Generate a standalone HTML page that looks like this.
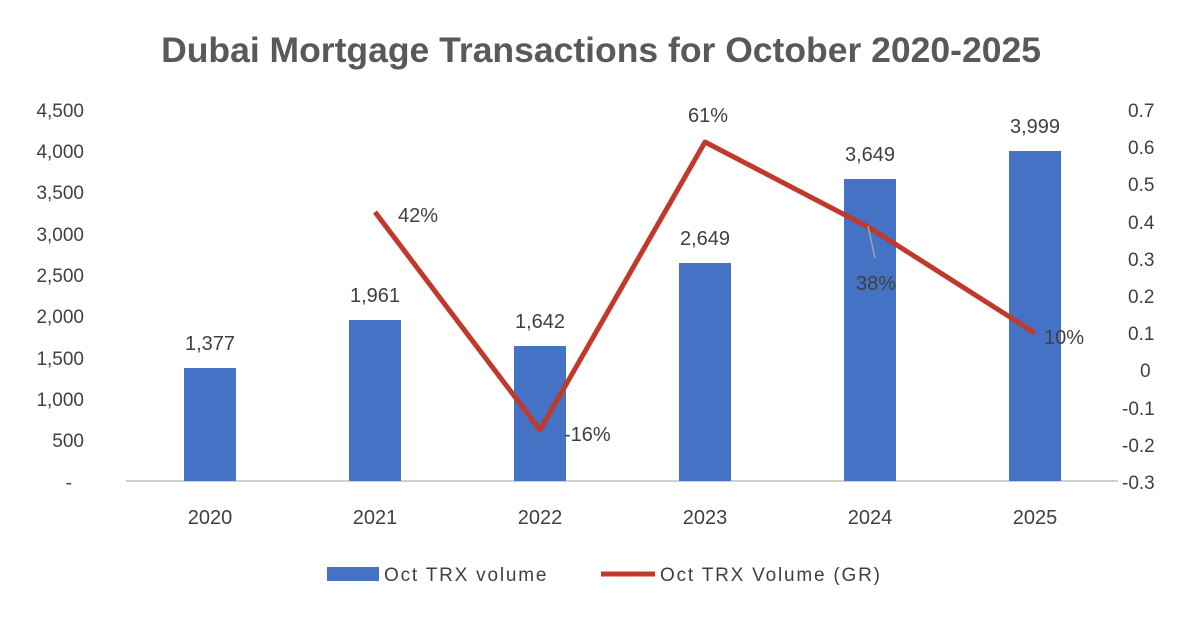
<!DOCTYPE html>
<html><head><meta charset="utf-8"><style>
html,body{margin:0;padding:0;background:#fff;}
svg text{font-family:"Liberation Sans",Arial,sans-serif;fill:#404040;}
</style></head><body>
<svg width="1203" height="616" viewBox="0 0 1203 616" xmlns="http://www.w3.org/2000/svg">
<rect width="1203" height="616" fill="#fff"/>
<text x="601" y="62" font-size="35.5" font-weight="bold" text-anchor="middle" style="fill:#595959">Dubai Mortgage Transactions for October 2020-2025</text>
<g font-size="19" text-anchor="end">
<text x="84" y="117">4,500</text>
<text x="84" y="158">4,000</text>
<text x="84" y="199">3,500</text>
<text x="84" y="241">3,000</text>
<text x="84" y="282">2,500</text>
<text x="84" y="323">2,000</text>
<text x="84" y="365">1,500</text>
<text x="84" y="406">1,000</text>
<text x="84" y="447">500</text>
<text x="72" y="489">-</text>
</g>
<g font-size="19" text-anchor="start">
<text x="1128" y="117">0.7</text>
<text x="1128" y="154">0.6</text>
<text x="1128" y="191">0.5</text>
<text x="1128" y="229">0.4</text>
<text x="1128" y="266">0.3</text>
<text x="1128" y="303">0.2</text>
<text x="1128" y="340">0.1</text>
<text x="1140" y="377">0</text>
<text x="1122" y="415">-0.1</text>
<text x="1122" y="452">-0.2</text>
<text x="1122" y="489">-0.3</text>
</g>
<line x1="126" y1="481" x2="1118" y2="481" stroke="#d0d0d0" stroke-width="2"/>
<g fill="#4472c4">
<rect x="184" y="368" width="52" height="113"/>
<rect x="349" y="320" width="52" height="161"/>
<rect x="514" y="346" width="52" height="135"/>
<rect x="679" y="263" width="52" height="218"/>
<rect x="844" y="179" width="52" height="302"/>
<rect x="1009" y="151" width="52" height="330"/>
</g>
<g font-size="20" text-anchor="middle">
<text x="210" y="350">1,377</text>
<text x="375" y="302">1,961</text>
<text x="540" y="328">1,642</text>
<text x="705" y="245">2,649</text>
<text x="870" y="161">3,649</text>
<text x="1035" y="133">3,999</text>
</g>
<polyline points="375,212 540,430 705,142 870,228 1035,333" fill="none" stroke="#c0392b" stroke-width="5" stroke-linejoin="round"/>
<line x1="868" y1="226" x2="875" y2="258" stroke="#a0a0a0" stroke-width="1.5"/>
<g font-size="20">
<text x="398" y="222">42%</text>
<text x="564" y="441">-16%</text>
<text x="688" y="122">61%</text>
<text x="856" y="290">38%</text>
<text x="1044" y="344">10%</text>
</g>
<g font-size="20" text-anchor="middle">
<text x="210" y="524">2020</text>
<text x="375" y="524">2021</text>
<text x="540" y="524">2022</text>
<text x="705" y="524">2023</text>
<text x="870" y="524">2024</text>
<text x="1035" y="524">2025</text>
</g>
<rect x="327" y="567" width="52" height="14" fill="#4472c4"/>
<text x="384" y="581" font-size="19" letter-spacing="1.8">Oct TRX volume</text>
<line x1="601" y1="574" x2="655" y2="574" stroke="#c0392b" stroke-width="5"/>
<text x="660" y="581" font-size="19" letter-spacing="1.8">Oct TRX Volume (GR)</text>
</svg>
</body></html>
